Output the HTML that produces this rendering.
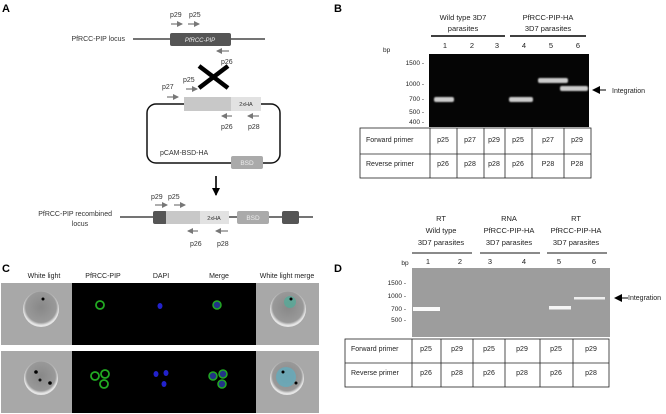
<!DOCTYPE html>
<html><head><meta charset="utf-8"><style>
html,body{margin:0;padding:0;background:#fff;}
svg{display:block;font-family:"Liberation Sans",sans-serif;}
</style></head><body>
<svg width="666" height="414" viewBox="0 0 666 414" xmlns="http://www.w3.org/2000/svg">
<defs>
<marker id="ah" markerWidth="6" markerHeight="6" refX="5" refY="3" orient="auto" markerUnits="userSpaceOnUse"><path d="M0,0 L6,3 L0,6 z" fill="#777"/></marker>
<marker id="bh" markerWidth="8" markerHeight="8" refX="7" refY="4" orient="auto" markerUnits="userSpaceOnUse"><path d="M0,0 L8,4 L0,8 z" fill="#000"/></marker>
<radialGradient id="cell" cx="50%" cy="45%" r="50%"><stop offset="0" stop-color="#888"/><stop offset="0.85" stop-color="#999"/><stop offset="1" stop-color="#e5e5e5"/></radialGradient>
<filter id="blur"><feGaussianBlur stdDeviation="0.8"/></filter>
</defs>
<g font-weight="bold" font-size="11"><text x="2" y="12">A</text><text x="334" y="12">B</text><text x="2" y="272">C</text><text x="334" y="272">D</text></g>

<!-- Panel A -->
<g font-size="7" fill="#333">
<text x="170" y="17">p29</text><text x="189" y="17">p25</text>
<line x1="171" y1="24" x2="182" y2="24" stroke="#777" stroke-width="1.2" marker-end="url(#ah)"/>
<line x1="188" y1="24" x2="199" y2="24" stroke="#777" stroke-width="1.2" marker-end="url(#ah)"/>
<text x="125" y="41" text-anchor="end">PfRCC-PIP locus</text>
<line x1="133" y1="39" x2="265" y2="39" stroke="#222" stroke-width="1.3"/>
<rect x="170" y="33" width="61" height="13" rx="2" fill="#555"/>
<text x="200" y="42" text-anchor="middle" fill="#eee" font-style="italic" font-size="6">PfRCC-PIP</text>
<line x1="229" y1="51" x2="217" y2="51" stroke="#777" stroke-width="1.2" marker-end="url(#ah)"/>
<text x="221" y="64">p26</text>
<line x1="199" y1="66" x2="228" y2="88" stroke="#000" stroke-width="4.5"/>
<line x1="228" y1="66" x2="199" y2="88" stroke="#000" stroke-width="4.5"/>
<text x="183" y="82">p25</text><text x="162" y="89">p27</text>
<line x1="186" y1="89" x2="197" y2="89" stroke="#777" stroke-width="1.2" marker-end="url(#ah)"/>
<line x1="167" y1="97" x2="178" y2="97" stroke="#777" stroke-width="1.2" marker-end="url(#ah)"/>
<rect x="147" y="104" width="133" height="59" rx="9" fill="none" stroke="#111" stroke-width="1.5"/>
<rect x="184" y="97" width="47" height="14" fill="#c8c8c8"/>
<rect x="231" y="97" width="30" height="14" fill="#e2e2e2"/>
<text x="246" y="106" text-anchor="middle" font-size="5.5">2xHA</text>
<line x1="232" y1="116" x2="222" y2="116" stroke="#777" stroke-width="1.2" marker-end="url(#ah)"/>
<line x1="259" y1="116" x2="248" y2="116" stroke="#777" stroke-width="1.2" marker-end="url(#ah)"/>
<text x="221" y="129">p26</text><text x="248" y="129">p28</text>
<text x="160" y="155">pCAM-BSD-HA</text>
<rect x="231" y="156" width="32" height="13" rx="2" fill="#aaa"/>
<text x="247" y="165" text-anchor="middle" fill="#eee" font-size="6.5">BSD</text>
<line x1="216" y1="176" x2="216" y2="195" stroke="#000" stroke-width="1.6" marker-end="url(#bh)"/>
<text x="151" y="199">p29</text><text x="168" y="199">p25</text>
<line x1="155" y1="205" x2="167" y2="205" stroke="#777" stroke-width="1.2" marker-end="url(#ah)"/>
<line x1="174" y1="205" x2="185" y2="205" stroke="#777" stroke-width="1.2" marker-end="url(#ah)"/>
<text x="112" y="216" text-anchor="end">PfRCC-PIP recombined</text>
<text x="80" y="226" text-anchor="middle">locus</text>
<line x1="120" y1="217" x2="313" y2="217" stroke="#222" stroke-width="1.3"/>
<rect x="153" y="211" width="14" height="13" rx="2" fill="#555"/>
<rect x="166" y="211" width="34" height="13" fill="#c8c8c8"/>
<rect x="200" y="211" width="29" height="13" fill="#e2e2e2"/>
<text x="214" y="220" text-anchor="middle" font-size="5.5">2xHA</text>
<rect x="237" y="211" width="32" height="13" rx="2" fill="#aaa"/>
<text x="253" y="220" text-anchor="middle" fill="#eee" font-size="6.5">BSD</text>
<rect x="282" y="211" width="17" height="13" rx="2" fill="#555"/>
<line x1="198" y1="231" x2="188" y2="231" stroke="#777" stroke-width="1.2" marker-end="url(#ah)"/>
<line x1="228" y1="231" x2="216" y2="231" stroke="#777" stroke-width="1.2" marker-end="url(#ah)"/>
<text x="190" y="246">p26</text><text x="217" y="246">p28</text>
</g>

<!-- Panel B -->
<g font-size="7.5" fill="#222">
<text x="463" y="20" text-anchor="middle">Wild type 3D7</text>
<text x="463" y="31" text-anchor="middle">parasites</text>
<text x="548" y="20" text-anchor="middle">PfRCC-PIP-HA</text>
<text x="548" y="31" text-anchor="middle">3D7 parasites</text>
<line x1="431" y1="36" x2="505" y2="36" stroke="#000" stroke-width="1.5"/>
<line x1="510" y1="36" x2="586" y2="36" stroke="#000" stroke-width="1.5"/>
<g text-anchor="middle"><text x="445" y="48">1</text><text x="472" y="48">2</text><text x="497" y="48">3</text><text x="524" y="48">4</text><text x="551" y="48">5</text><text x="578" y="48">6</text></g>
<text x="383" y="52" font-size="6.5">bp</text>
<rect x="429" y="54" width="160" height="73" fill="#050505"/>
<g text-anchor="end" font-size="6.5"><text x="424" y="65">1500 -</text><text x="424" y="86">1000 -</text><text x="424" y="101">700 -</text><text x="424" y="114">500 -</text><text x="424" y="124">400 -</text></g>
<g filter="url(#blur)">
<rect x="434" y="97" width="20" height="5" rx="2" fill="#ccc"/>
<rect x="509" y="97" width="24" height="5" rx="2" fill="#ccc"/>
<rect x="538" y="78" width="30" height="5" rx="2" fill="#ccc"/>
<rect x="560" y="86" width="28" height="5" rx="2" fill="#ccc"/>
</g>
<line x1="606" y1="90" x2="593" y2="90" stroke="#000" stroke-width="1" marker-end="url(#bh)"/>
<text x="612" y="93" font-size="7">Integration</text>
<g fill="none" stroke="#222" stroke-width="0.8">
<rect x="360" y="128" width="231" height="50"/>
<line x1="360" y1="154" x2="591" y2="154"/>
<line x1="430" y1="128" x2="430" y2="178"/><line x1="457" y1="128" x2="457" y2="178"/><line x1="484" y1="128" x2="484" y2="178"/><line x1="505" y1="128" x2="505" y2="178"/><line x1="532" y1="128" x2="532" y2="178"/><line x1="564" y1="128" x2="564" y2="178"/>
</g>
<g font-size="7"><text x="366" y="142">Forward primer</text><text x="366" y="166">Reverse primer</text></g>
<g font-size="7" text-anchor="middle">
<text x="443" y="142">p25</text><text x="470" y="142">p27</text><text x="494" y="142">p29</text><text x="518" y="142">p25</text><text x="548" y="142">p27</text><text x="577" y="142">p29</text>
<text x="443" y="166">p26</text><text x="470" y="166">p28</text><text x="494" y="166">p28</text><text x="518" y="166">p26</text><text x="548" y="166">P28</text><text x="577" y="166">P28</text>
</g>
</g>

<!-- Panel C -->
<g font-size="7" fill="#222" text-anchor="middle">
<text x="44" y="278">White light</text><text x="103" y="278">PfRCC-PIP</text><text x="161" y="278">DAPI</text><text x="219" y="278">Merge</text><text x="287" y="278">White light merge</text>
</g>
<rect x="1" y="283" width="71" height="62" fill="#a8a8a8"/>
<rect x="72" y="283" width="184" height="62" fill="#000"/>
<rect x="256" y="283" width="63" height="62" fill="#a8a8a8"/>
<rect x="1" y="351" width="71" height="62" fill="#a8a8a8"/>
<rect x="72" y="351" width="184" height="62" fill="#000"/>
<rect x="256" y="351" width="63" height="62" fill="#a8a8a8"/>
<circle cx="41" cy="309" r="18" fill="url(#cell)"/><circle cx="43" cy="299" r="1.5" fill="#000"/>
<circle cx="288" cy="309" r="18" fill="url(#cell)"/><circle cx="290" cy="302" r="6" fill="#5a9" opacity="0.8"/><circle cx="291" cy="299" r="1.5" fill="#000"/>
<circle cx="100" cy="305" r="4" fill="none" stroke="#2a2" stroke-width="1.8"/>
<ellipse cx="160" cy="306" rx="2.5" ry="3" fill="#22c"/>
<circle cx="217" cy="305" r="4" fill="#238" stroke="#2a2" stroke-width="1.5"/>
<circle cx="41" cy="378" r="17" fill="url(#cell)"/><circle cx="36" cy="372" r="1.8" fill="#000"/><circle cx="40" cy="380" r="1.5" fill="#111"/><circle cx="50" cy="383" r="1.8" fill="#000"/>
<circle cx="287" cy="378" r="17" fill="url(#cell)"/><circle cx="286" cy="377" r="10" fill="#6ab" opacity="0.85"/><circle cx="283" cy="372" r="1.5" fill="#000"/><circle cx="296" cy="383" r="1.5" fill="#000"/>
<g fill="none" stroke="#2a2" stroke-width="1.8"><circle cx="95" cy="376" r="4"/><circle cx="105" cy="374" r="4"/><circle cx="104" cy="384" r="4"/></g>
<g fill="#22c"><ellipse cx="156" cy="374" rx="2.5" ry="3"/><ellipse cx="166" cy="373" rx="2.5" ry="3"/><ellipse cx="164" cy="384" rx="2.5" ry="3"/></g>
<g fill="#238" stroke="#2a2" stroke-width="1.5"><circle cx="213" cy="376" r="4"/><circle cx="223" cy="374" r="4"/><circle cx="222" cy="384" r="4"/></g>

<!-- Panel D -->
<g font-size="7.5" fill="#222" text-anchor="middle">
<text x="441" y="221">RT</text><text x="441" y="233">Wild type</text><text x="441" y="245">3D7 parasites</text>
<text x="509" y="221">RNA</text><text x="509" y="233">PfRCC-PIP-HA</text><text x="509" y="245">3D7 parasites</text>
<text x="576" y="221">RT</text><text x="576" y="233">PfRCC-PIP-HA</text><text x="576" y="245">3D7 parasites</text>
<text x="428" y="264">1</text><text x="460" y="264">2</text><text x="490" y="264">3</text><text x="524" y="264">4</text><text x="559" y="264">5</text><text x="594" y="264">6</text>
<text x="405" y="265" font-size="6.5">bp</text>
</g>
<g stroke="#444" stroke-width="1.3"><line x1="412" y1="253" x2="472" y2="253"/><line x1="480" y1="253" x2="540" y2="253"/><line x1="547" y1="253" x2="607" y2="253"/></g>
<rect x="412" y="268" width="198" height="69" fill="#9d9d9d"/>
<g text-anchor="end" font-size="6.5" fill="#222"><text x="406" y="285">1500 -</text><text x="406" y="298">1000 -</text><text x="406" y="311">700 -</text><text x="406" y="322">500 -</text></g>
<rect x="413" y="307" width="27" height="4" fill="#fafafa"/>
<rect x="549" y="306" width="22" height="3.5" fill="#f5f5f5"/>
<rect x="574" y="297" width="31" height="2.5" fill="#eee"/>
<line x1="628" y1="298" x2="615" y2="298" stroke="#000" stroke-width="1" marker-end="url(#bh)"/>
<text x="628" y="300" font-size="7" fill="#222">Integration</text>
<g fill="none" stroke="#222" stroke-width="0.8">
<rect x="345" y="339" width="264" height="48"/>
<line x1="345" y1="363" x2="609" y2="363"/>
<line x1="412" y1="339" x2="412" y2="387"/><line x1="441" y1="339" x2="441" y2="387"/><line x1="473" y1="339" x2="473" y2="387"/><line x1="505" y1="339" x2="505" y2="387"/><line x1="540" y1="339" x2="540" y2="387"/><line x1="573" y1="339" x2="573" y2="387"/>
</g>
<g font-size="7" fill="#222"><text x="351" y="351">Forward primer</text><text x="351" y="375">Reverse primer</text></g>
<g font-size="7" fill="#222" text-anchor="middle">
<text x="426" y="351">p25</text><text x="457" y="351">p29</text><text x="489" y="351">p25</text><text x="522" y="351">p29</text><text x="556" y="351">p25</text><text x="591" y="351">p29</text>
<text x="426" y="375">p26</text><text x="457" y="375">p28</text><text x="489" y="375">p26</text><text x="522" y="375">p28</text><text x="556" y="375">p26</text><text x="591" y="375">p28</text>
</g>
</svg>
</body></html>
